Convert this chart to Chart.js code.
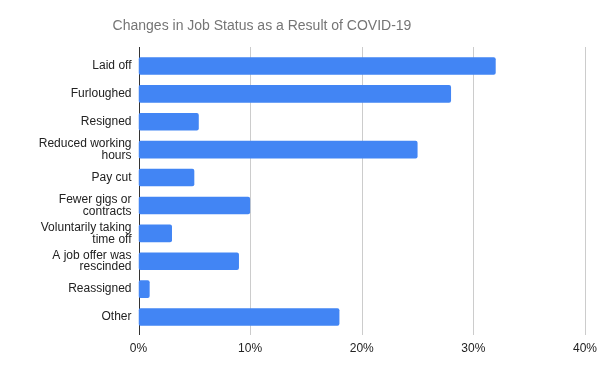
<!DOCTYPE html>
<html>
<head>
<meta charset="utf-8">
<script src="https://cdn.jsdelivr.net/npm/chart.js@4"></script>
<style>
  html, body { margin: 0; padding: 0; background: #fff; }
  #wrap { width: 604px; height: 373px; }
</style>
</head>
<body>
<div id="wrap"><canvas id="jobChart" width="604" height="373"></canvas></div>
<script>
const chartTitle = 'Changes in Job Status as a Result of COVID-19';
const categories = [
  'Laid off',
  'Furloughed',
  'Resigned',
  ['Reduced working', 'hours'],
  'Pay cut',
  ['Fewer gigs or', 'contracts'],
  ['Voluntarily taking', 'time off'],
  ['A job offer was', 'rescinded'],
  'Reassigned',
  'Other'
];
const percentValues = [32, 28, 5.4, 25, 5, 10, 3, 9, 1, 18];
const xTicks = [0, 10, 20, 30, 40];

const FONT = "'Liberation Sans', Arial, sans-serif";

// grid lines + axis line run a few px past the bar band, like Sheets does
const gridPlugin = {
  id: 'sheetGrid',
  beforeDatasetsDraw(chart) {
    const { ctx, chartArea, scales } = chart;
    const top = chartArea.top - 5, bottom = chartArea.bottom + 4;
    ctx.save();
    xTicks.forEach(v => {
      const x = Math.round(scales.x.getPixelForValue(v)) + 0.5;
      ctx.strokeStyle = v === 0 ? '#333333' : '#cccccc';
      ctx.lineWidth = 1;
      ctx.beginPath();
      ctx.moveTo(x, top);
      ctx.lineTo(x, bottom);
      ctx.stroke();
    });
    ctx.restore();
  },
  afterDraw(chart) {
    const ctx = chart.ctx;
    ctx.save();
    ctx.font = '14px ' + FONT;
    ctx.fillStyle = '#757575';
    ctx.textAlign = 'center';
    ctx.textBaseline = 'middle';
    ctx.fillText(chartTitle, 262, 26);
    ctx.restore();
  }
};

function initChart() {
  const ctx = document.getElementById('jobChart').getContext('2d');
  new Chart(ctx, {
    type: 'bar',
    data: {
      labels: categories,
      datasets: [{
        label: 'Share',
        data: percentValues,
        backgroundColor: '#4285f4',
        borderRadius: 2,
        borderSkipped: false,
        barPercentage: 0.63,
        categoryPercentage: 1
      }]
    },
    options: {
      indexAxis: 'y',
      animation: false,
      responsive: false,
      layout: { padding: { top: 52, right: 19, left: 0, bottom: 0 } },
      plugins: { legend: { display: false }, tooltip: { enabled: false } },
      scales: {
        x: {
          min: 0,
          max: 40,
          afterBuildTicks: axis => { axis.ticks = xTicks.map(v => ({ value: v })); },
          afterFit: axis => {
            axis.height = 42;
            axis.paddingLeft = 0;
            axis.paddingRight = 0;
          },
          grid: { display: false, drawTicks: false },
          border: { display: false },
          ticks: {
            padding: 10,
            color: '#222',
            font: { family: FONT, size: 12 },
            callback: v => v + '%'
          }
        },
        y: {
          afterFit: axis => { axis.width = 138.5; },
          grid: { display: false, drawTicks: false },
          border: { display: false },
          ticks: {
            padding: 7,
            color: '#222',
            font: { family: FONT, size: 12, lineHeight: 0.98 },
            autoSkip: false
          }
        }
      }
    },
    plugins: [gridPlugin]
  });
}

window.addEventListener('DOMContentLoaded', initChart);
</script>
</body>
</html>
